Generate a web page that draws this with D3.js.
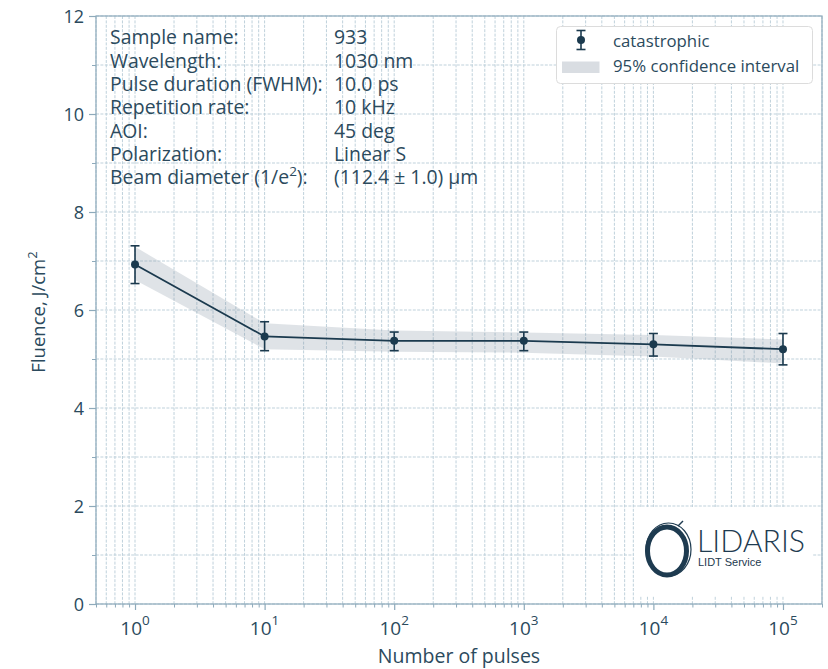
<!DOCTYPE html>
<html>
<head>
<meta charset="utf-8">
<script src="https://cdn.jsdelivr.net/npm/d3@7"></script>
<style>
  html, body { margin: 0; padding: 0; background: #fff; }
  svg { display: block; font-family: "Open Sans", sans-serif; }
</style>
</head>
<body>
<svg id="chart" width="828" height="669"></svg>
<script>
// Damage threshold measurements per number of pulses
const pulses    = [1, 10, 100, 1000, 10000, 100000];
const fluence   = [6.93, 5.46, 5.37, 5.37, 5.30, 5.20];
const errLow    = [6.54, 5.17, 5.17, 5.17, 5.06, 4.88];
const errHigh   = [7.31, 5.76, 5.55, 5.55, 5.52, 5.52];
// 95% confidence interval of the fitted threshold
const bandLow   = [6.61, 5.20, 5.15, 5.13, 5.05, 4.91];
const bandHigh  = [7.29, 5.73, 5.58, 5.54, 5.49, 5.40];

const yTicks      = [0, 2, 4, 6, 8, 10, 12];
const yMinorTicks = [1, 3, 5, 7, 9, 11];
const xExponents  = [0, 1, 2, 3, 4, 5];

const infoLabels = ["Sample name:", "Wavelength:", "Pulse duration (FWHM):", "Repetition rate:",
                    "AOI:", "Polarization:", "Beam diameter (1/e"];
const infoValues = ["933", "1030 nm", "10.0 ps", "10 kHz", "45 deg", "Linear S", "(112.4 \u00B1 1.0) \u00B5m"];

const legendLabels = ["catastrophic", "95% confidence interval"];

const textColor = "#2b4a5d";
const spineColor = "#8eaabb";
const gridColor = "#bfd1db";
const markColor = "#1b3a4e";

const svg = d3.select("#chart");
const pLeft = 96, pRight = 822, pTop = 16, pBottom = 604;

const x = d3.scaleLog().domain([0.5, 2e5]).range([pLeft, pRight]);
const y = d3.scaleLinear().domain([0, 12]).range([pBottom, pTop]);

// grid: every decade subdivision and every unit of fluence
const xGrid = [];
for (let e = -1; e <= 5; e++) {
  for (let m = 1; m <= 9; m++) {
    const v = m * Math.pow(10, e);
    if (v >= 0.5 && v <= 2e5) xGrid.push(v);
  }
}
const yGrid = d3.range(0, 13);

const grid = svg.append("g").attr("stroke", gridColor).attr("stroke-width", 1)
  .attr("stroke-dasharray", "3,1.4");
grid.selectAll("line.gx").data(xGrid).join("line").attr("class", "gx")
  .attr("x1", d => x(d)).attr("x2", d => x(d)).attr("y1", pTop).attr("y2", pBottom);
grid.selectAll("line.gy").data(yGrid).join("line").attr("class", "gy")
  .attr("x1", pLeft).attr("x2", pRight).attr("y1", d => y(d)).attr("y2", d => y(d));

// logo backdrop
svg.append("rect").attr("x", 634).attr("y", 507).attr("width", 178).attr("height", 89).attr("fill", "#fff");

// confidence band
const band = d3.area()
  .x((d, i) => x(pulses[i]))
  .y0((d, i) => y(bandLow[i]))
  .y1((d, i) => y(bandHigh[i]));
svg.append("path").datum(pulses).attr("d", band)
  .attr("fill", "#8090a0").attr("fill-opacity", 0.25);

// connecting line
const line = d3.line().x((d, i) => x(pulses[i])).y((d, i) => y(fluence[i]));
svg.append("path").datum(pulses).attr("d", line)
  .attr("fill", "none").attr("stroke", markColor).attr("stroke-width", 1.8);

// error bars and markers
const eb = svg.append("g").attr("stroke", markColor).attr("stroke-width", 1.6);
pulses.forEach((p, i) => {
  const cx = x(p);
  eb.append("line").attr("x1", cx).attr("x2", cx).attr("y1", y(errLow[i])).attr("y2", y(errHigh[i]));
  eb.append("line").attr("x1", cx - 4.5).attr("x2", cx + 4.5).attr("y1", y(errLow[i])).attr("y2", y(errLow[i]));
  eb.append("line").attr("x1", cx - 4.5).attr("x2", cx + 4.5).attr("y1", y(errHigh[i])).attr("y2", y(errHigh[i]));
});
svg.append("g").selectAll("circle").data(pulses).join("circle")
  .attr("cx", d => x(d)).attr("cy", (d, i) => y(fluence[i])).attr("r", 4)
  .attr("fill", markColor);

// frame
svg.append("rect").attr("x", pLeft).attr("y", pTop).attr("width", pRight - pLeft).attr("height", pBottom - pTop)
  .attr("fill", "none").attr("stroke", spineColor).attr("stroke-width", 1.2);

// y axis
const yAxis = svg.append("g").attr("transform", `translate(${pLeft},0)`)
  .call(d3.axisLeft(y).tickValues(yTicks).tickSize(7).tickPadding(5).tickFormat(d3.format("d")));
yAxis.select(".domain").remove();
yAxis.selectAll(".tick line").attr("stroke", spineColor).attr("stroke-width", 1.2);
yAxis.selectAll(".tick text").attr("fill", textColor).attr("font-size", 18)
  .attr("font-family", "Open Sans").attr("dy", "0.36em");
const yMinor = svg.append("g").attr("transform", `translate(${pLeft},0)`)
  .call(d3.axisLeft(y).tickValues(yMinorTicks).tickSize(4).tickFormat(""));
yMinor.select(".domain").remove();
yMinor.selectAll(".tick line").attr("stroke", spineColor).attr("stroke-width", 1);

// x axis
const xAxis = svg.append("g").attr("transform", `translate(0,${pBottom})`)
  .call(d3.axisBottom(x).tickValues(xExponents.map(e => Math.pow(10, e))).tickSize(6).tickFormat(""));
xAxis.select(".domain").remove();
xAxis.selectAll(".tick line").attr("stroke", spineColor).attr("stroke-width", 1.2);
const xMinor = svg.append("g").attr("transform", `translate(0,${pBottom})`)
  .call(d3.axisBottom(x).tickValues(xGrid.filter(v => Math.abs(Math.log10(v) % 1) > 1e-9)).tickSize(3.5).tickFormat(""));
xMinor.select(".domain").remove();
xMinor.selectAll(".tick line").attr("stroke", spineColor).attr("stroke-width", 1);

const xLabels = svg.append("g").attr("fill", textColor).attr("font-family", "Open Sans");
xExponents.forEach(e => {
  const t = xLabels.append("text").attr("x", x(Math.pow(10, e))).attr("y", 634.5)
    .attr("text-anchor", "middle").attr("font-size", 19);
  t.append("tspan").text("10");
  t.append("tspan").attr("dy", -9.5).attr("font-size", 13.5).text(String(e));
});

svg.append("text").attr("x", 459).attr("y", 663).attr("text-anchor", "middle")
  .attr("fill", textColor).attr("font-size", 19.5).text("Number of pulses");

const yl = svg.append("text").attr("transform", `translate(44.5,${(pTop + pBottom) / 2 + 2}) rotate(-90)`)
  .attr("text-anchor", "middle").attr("fill", textColor).attr("font-size", 18.5);
yl.append("tspan").text("Fluence, J/cm");
yl.append("tspan").attr("dy", -8).attr("font-size", 13).text("2");

// measurement conditions
const info = svg.append("g").attr("fill", textColor).attr("font-size", 19.4);
infoLabels.forEach((lab, i) => {
  const yy = 44.3 + i * 23.3;
  const t = info.append("text").attr("x", 110).attr("y", yy);
  t.append("tspan").text(lab);
  if (i === infoLabels.length - 1) {
    t.append("tspan").attr("dy", -8).attr("font-size", 13.5).text("2");
    t.append("tspan").attr("dy", 8).text("):");
  }
  info.append("text").attr("x", 334).attr("y", yy).text(infoValues[i]);
});

// legend
const lg = svg.append("g");
lg.append("rect").attr("x", 556.5).attr("y", 26.5).attr("width", 256).attr("height", 57).attr("rx", 4)
  .attr("fill", "#fff").attr("stroke", "#dcdcdc").attr("stroke-width", 1);
const lx = 581, ly1 = 40;
lg.append("line").attr("x1", lx).attr("x2", lx).attr("y1", ly1 - 9.5).attr("y2", ly1 + 9.5)
  .attr("stroke", markColor).attr("stroke-width", 1.6);
[ly1 - 9.5, ly1 + 9.5].forEach(v => lg.append("line").attr("x1", lx - 4.5).attr("x2", lx + 4.5)
  .attr("y1", v).attr("y2", v).attr("stroke", markColor).attr("stroke-width", 1.6));
lg.append("circle").attr("cx", lx).attr("cy", ly1).attr("r", 4).attr("fill", markColor);
lg.append("rect").attr("x", 562).attr("y", 61.5).attr("width", 37.5).attr("height", 11.5)
  .attr("fill", "#8090a0").attr("fill-opacity", 0.3);
lg.selectAll("text").data(legendLabels).join("text")
  .attr("x", 613).attr("y", (d, i) => i === 0 ? 46.5 : 72)
  .attr("fill", textColor).attr("font-size", 16.8).text(d => d);

// LIDARIS logo
const logo = svg.append("g");
logo.append("ellipse").attr("cx", 667).attr("cy", 551).attr("rx", 19.5).attr("ry", 24)
  .attr("fill", "none").attr("stroke", "#1e3b50").attr("stroke-width", 5);
logo.append("ellipse").attr("cx", 668.5).attr("cy", 549.5).attr("rx", 22.5).attr("ry", 26.5)
  .attr("fill", "none").attr("stroke", "#1e3b50").attr("stroke-width", 1.2);
logo.append("line").attr("x1", 678).attr("y1", 526).attr("x2", 683).attr("y2", 521)
  .attr("stroke", "#1e3b50").attr("stroke-width", 1.5);
logo.append("text").attr("x", 697).attr("y", 551.5).attr("font-family", "Lato, Liberation Sans, sans-serif")
  .attr("font-size", 31).attr("font-weight", 300).attr("fill", "#1e3b50")
  .attr("textLength", 108).attr("lengthAdjust", "spacingAndGlyphs").text("LIDARIS");
logo.append("text").attr("x", 698).attr("y", 566).attr("font-family", "Liberation Sans, Arial, sans-serif")
  .attr("font-size", 11).attr("fill", "#1e3b50").text("LIDT Service");
</script>
</body>
</html>
